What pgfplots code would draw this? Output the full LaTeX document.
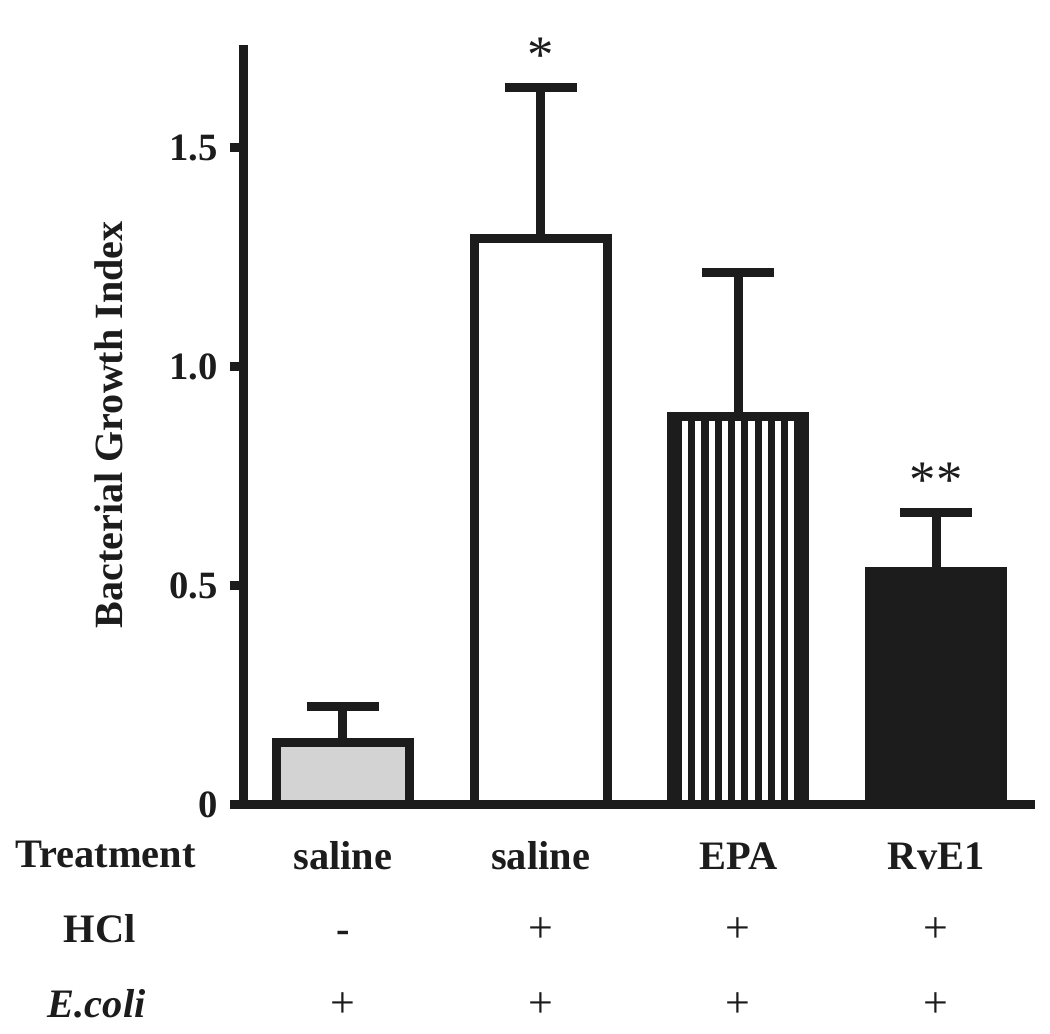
\documentclass[border=0pt]{standalone}
\usepackage{pgfplots}
\pgfplotsset{compat=1.18}
\usepackage{fontspec}
\setmainfont{Liberation Serif}
\usetikzlibrary{patterns.meta}
\definecolor{ink}{HTML}{1C1C1C}
\definecolor{lgray}{HTML}{D3D3D3}
\begin{document}
\begin{tikzpicture}
\useasboundingbox (-2.44cm,-2.29cm) rectangle (8.06cm,8.05cm);
\begin{axis}[
  scale only axis, width=7.91cm, height=7.60cm,
  xmin=-0.5, xmax=3.5, ymin=0, ymax=1.735,
  axis x line=bottom, axis y line=left,
  axis line style={-, line width=0.09cm, draw=ink},
  ytick={0,0.5,1,1.5}, yticklabels={0,0.5,1.0,1.5},
  tick align=outside, major tick length=0.14cm,
  y tick style={line width=0.09cm, draw=ink},
  yticklabel style={font=\fontsize{11}{13}\selectfont\bfseries, text=ink, xshift=0.0cm},
  xtick={0,1,2,3}, xticklabels={saline,saline,EPA,RvE1},
  x tick style={draw=none},
  xticklabel style={font=\fontsize{11.5}{13}\selectfont\bfseries, text=ink, anchor=base, yshift=-0.51cm},
  ybar, bar width=1.33cm,
  clip=false,
]
\addplot[bar shift=0pt, fill=lgray, draw=ink, line width=0.09cm,
  error bars/.cd, y dir=plus, y explicit,
  error bar style={line width=0.09cm, draw=ink},
  error mark options={rotate=90, line width=0.09cm, draw=ink, mark size=0.36cm}]
  coordinates {(0,0.143) +- (0,0.081)};
\addplot[bar shift=0pt, fill=white, draw=ink, line width=0.09cm,
  error bars/.cd, y dir=plus, y explicit,
  error bar style={line width=0.09cm, draw=ink},
  error mark options={rotate=90, line width=0.09cm, draw=ink, mark size=0.36cm}]
  coordinates {(1,1.294) +- (0,0.343)};
\addplot[bar shift=0pt, draw=ink, line width=0.09cm,
  pattern={Lines[angle=90,distance=1.33mm,line width=0.72mm]}, pattern color=ink,
  error bars/.cd, y dir=plus, y explicit,
  error bar style={line width=0.09cm, draw=ink},
  error mark options={rotate=90, line width=0.09cm, draw=ink, mark size=0.36cm}]
  coordinates {(2,0.887) +- (0,0.328)};
\addplot[bar shift=0pt, fill=ink, draw=ink, line width=0.09cm,
  error bars/.cd, y dir=plus, y explicit,
  error bar style={line width=0.09cm, draw=ink},
  error mark options={rotate=90, line width=0.09cm, draw=ink, mark size=0.36cm}]
  coordinates {(3,0.534) +- (0,0.134)};

% significance stars
\node[anchor=base, yshift=0.15cm, font=\fontsize{15}{15}\selectfont, text=ink] at (axis cs:1,1.637) {*};
\node[anchor=base, yshift=0.15cm, font=\fontsize{15}{15}\selectfont, text=ink] at (axis cs:3,0.668) {**};

% y label
\node[rotate=90, font=\fontsize{11.4}{14}\selectfont\bfseries, text=ink]
  at ([xshift=-1.35cm]axis cs:-0.5,0.868) {Bacterial Growth Index};

% row labels
\node[anchor=base, font=\fontsize{11.5}{13}\selectfont\bfseries, text=ink] at (axis cs:-1.20,-0.1438) {Treatment};
\node[anchor=base, font=\fontsize{11.5}{13}\selectfont\bfseries, text=ink] at (axis cs:-1.23,-0.3128) {HCl};
\node[anchor=base, font=\fontsize{11.5}{13}\selectfont\bfseries\itshape, text=ink] at (axis cs:-1.245,-0.484) {E.coli};

% HCl row
\node[anchor=base, font=\fontsize{11.5}{13}\selectfont\bfseries, text=ink] at (axis cs:0,-0.3128) {-};
\node[anchor=base, font=\fontsize{12.5}{13}\selectfont, text=ink] at (axis cs:1,-0.3128) {+};
\node[anchor=base, font=\fontsize{12.5}{13}\selectfont, text=ink] at (axis cs:2,-0.3128) {+};
\node[anchor=base, font=\fontsize{12.5}{13}\selectfont, text=ink] at (axis cs:3,-0.3128) {+};
% E.coli row
\node[anchor=base, font=\fontsize{12.5}{13}\selectfont, text=ink] at (axis cs:0,-0.484) {+};
\node[anchor=base, font=\fontsize{12.5}{13}\selectfont, text=ink] at (axis cs:1,-0.484) {+};
\node[anchor=base, font=\fontsize{12.5}{13}\selectfont, text=ink] at (axis cs:2,-0.484) {+};
\node[anchor=base, font=\fontsize{12.5}{13}\selectfont, text=ink] at (axis cs:3,-0.484) {+};
\end{axis}
\end{tikzpicture}
\end{document}
